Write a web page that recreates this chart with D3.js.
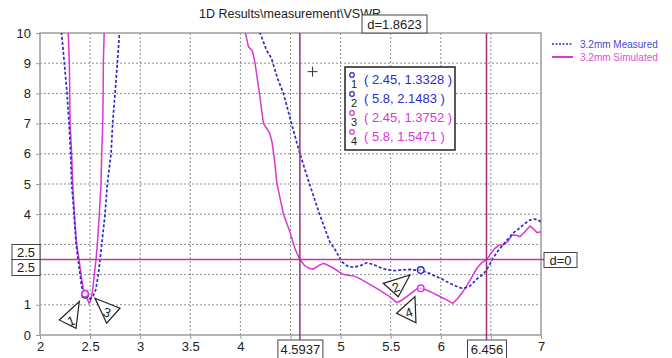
<!DOCTYPE html>
<html>
<head>
<meta charset="utf-8">
<script src="https://cdn.jsdelivr.net/npm/d3@7"></script>
<style>
  html, body { margin: 0; padding: 0; background: #fff; }
  svg { display: block; font-family: "Liberation Sans", Arial, sans-serif; }
</style>
</head>
<body>
<svg id="chart" width="672" height="358"></svg>
<script>
// Frequency (GHz) and VSWR for the 3.2 mm antenna, measured vs simulated.
const measuredFreq = [2.21, 2.243, 2.27, 2.29, 2.306, 2.316, 2.34, 2.36, 2.38, 2.40, 2.416, 2.435, 2.45, 2.47, 2.49, 2.51, 2.532, 2.556, 2.582, 2.60, 2.616, 2.649, 2.672, 2.709, 2.725, 2.749, 2.772, 2.795, 2.82,
  4.18, 4.196, 4.26, 4.31, 4.37, 4.43, 4.51, 4.594, 4.69, 4.79, 4.89, 4.95, 5.01, 5.07, 5.13, 5.2, 5.26, 5.33, 5.39, 5.45, 5.54, 5.62, 5.69, 5.75, 5.8, 5.88, 5.96, 6.03, 6.09, 6.15, 6.21, 6.25, 6.29, 6.33, 6.37, 6.42, 6.46, 6.49, 6.52, 6.57, 6.62, 6.67, 6.72, 6.77, 6.82, 6.86, 6.89, 6.93, 6.96, 7.0];
const measuredVswr = [10.2, 9, 8, 7, 6, 5, 4, 3, 2.5, 2, 1.6, 1.4, 1.3328, 1.25, 1.2, 1.22, 1.3, 1.5, 2, 2.5, 3, 4, 5, 6, 7, 8, 9, 10.1, 10.8,
  10.5, 10, 9.44, 9.16, 8.5, 8.0, 7.0, 6.0, 5.0, 4.0, 3.1, 2.8, 2.43, 2.28, 2.24, 2.3, 2.39, 2.33, 2.24, 2.17, 2.13, 2.16, 2.17, 2.15, 2.1483, 2.05, 1.93, 1.82, 1.71, 1.62, 1.55, 1.57, 1.62, 1.75, 1.88, 2.0, 2.17, 2.35, 2.54, 2.78, 2.98, 3.18, 3.37, 3.5, 3.64, 3.74, 3.81, 3.84, 3.83, 3.75];

const simulatedFreq = [2.28, 2.293, 2.297, 2.30, 2.316, 2.326, 2.343, 2.366, 2.39, 2.41, 2.43, 2.45, 2.47, 2.49, 2.50, 2.51, 2.526, 2.542, 2.559, 2.572, 2.592, 2.609, 2.616, 2.626, 2.63, 2.632, 2.642, 2.66,
  4.03, 4.05, 4.08, 4.12, 4.146, 4.19, 4.23, 4.26, 4.29, 4.315, 4.34, 4.365, 4.43, 4.495, 4.545, 4.594, 4.64, 4.69, 4.73, 4.78, 4.83, 4.88, 4.93, 4.98, 5.03, 5.09, 5.14, 5.2, 5.27, 5.33, 5.4, 5.49, 5.56, 5.61, 5.66, 5.72, 5.77, 5.8, 5.85, 5.93, 6.03, 6.08, 6.12, 6.17, 6.22, 6.29, 6.36, 6.41, 6.46, 6.5, 6.54, 6.58, 6.62, 6.67, 6.71, 6.75, 6.79, 6.84, 6.89, 6.93, 6.96, 7.0];
const simulatedVswr = [10.2, 9, 8, 7, 6, 5, 4, 3, 2.5, 2, 1.55, 1.3752, 1.2, 1.05, 1.1, 1.2, 1.5, 2, 2.5, 3, 4, 5, 6, 7, 8, 9, 10.2, 11,
  11, 10, 9.55, 9.4, 9.0, 8.0, 7.0, 6.85, 6.7, 6.4, 5.8, 5.0, 4.0, 3.4, 2.85, 2.5, 2.3, 2.2, 2.19, 2.3, 2.37, 2.3, 2.21, 2.1, 2.0, 1.97, 1.95, 1.85, 1.72, 1.6, 1.46, 1.27, 1.07, 1.15, 1.27, 1.42, 1.55, 1.5471, 1.5, 1.38, 1.21, 1.12, 1.05, 1.22, 1.43, 1.8, 2.21, 2.4, 2.5, 2.7, 2.87, 2.97, 2.98, 3.1, 3.31, 3.3, 3.26, 3.42, 3.61, 3.5, 3.39, 3.42];

// Tick labels that stay visible (4.5, 6.5, 2 and 3 sit under the readout boxes)
const xTicks = [2, 2.5, 3, 3.5, 4, 4.5, 5, 5.5, 6, 6.5, 7];
const xTickLabels = ["2", "2.5", "3", "3.5", "4", "", "5", "5.5", "6", "", "7"];
const yTicks = [0, 1, 2, 3, 4, 5, 6, 7, 8, 9, 10];
const yTickLabels = ["0", "1", "", "", "4", "5", "6", "7", "8", "9", "10"];

// Numbered markers: frequency, VSWR, series
const markerIds = ["1", "2", "3", "4"];
const markerFreq = [2.45, 5.8, 2.45, 5.8];
const markerVswr = [1.3328, 2.1483, 1.3752, 1.5471];
const markerSeries = ["measured", "measured", "simulated", "simulated"];

// Reference lines
const refLevel = 2.5;
const refFreqA = 4.5937;
const refFreqB = 6.456;

const seriesNames = ["3.2mm Measured", "3.2mm Simulated"];
const titleText = "1D Results\\measurement\\VSWR";

const blue = "#2c2cc8";
const magenta = "#d838d4";
const hRefColor = "#c8389a";
const vRefColor = "#9c3272";

const svg = d3.select("#chart");
const x = d3.scaleLinear().domain([2, 7]).range([40, 541]);
const y = d3.scaleLinear().domain([0, 10]).range([335, 33]);
const [x0, x1] = x.range();
const [y0, y1] = y.range();

// Grid
const grid = svg.append("g").attr("stroke", "#8c8c8c").attr("stroke-width", 1).attr("stroke-dasharray", "2,2");
grid.selectAll("line.v").data(xTicks.slice(1, -1)).join("line")
  .attr("x1", d => x(d)).attr("x2", d => x(d)).attr("y1", y1).attr("y2", y0);
grid.selectAll("line.h").data(yTicks.slice(1, -1)).join("line")
  .attr("x1", x0).attr("x2", x1).attr("y1", d => y(d)).attr("y2", d => y(d));

// Axes
const xAxis = svg.append("g").attr("transform", `translate(0,${y0})`)
  .call(d3.axisBottom(x).tickValues(xTicks).tickFormat((d, i) => xTickLabels[i]).tickSize(4).tickPadding(3));
const yAxis = svg.append("g").attr("transform", `translate(${x0},0)`)
  .call(d3.axisLeft(y).tickValues(yTicks).tickFormat((d, i) => yTickLabels[i]).tickSize(4).tickPadding(5));
[xAxis, yAxis].forEach(a => {
  a.select(".domain").remove();
  a.selectAll(".tick line").attr("stroke", "#999");
  a.selectAll(".tick text").attr("font-size", 13).attr("fill", "#222").attr("font-family", "Liberation Sans, Arial, sans-serif");
});

// Frame
svg.append("rect").attr("x", x0).attr("y", y1).attr("width", x1 - x0).attr("height", y0 - y1)
  .attr("fill", "none").attr("stroke", "#a2a2a2").attr("stroke-width", 1.6);

// Curves
svg.append("clipPath").attr("id", "plotClip").append("rect")
  .attr("x", x0).attr("y", y1).attr("width", x1 - x0).attr("height", y0 - y1);

const line = d3.line().x(d => x(d[0])).y(d => y(d[1]));
const measured = measuredFreq.map((f, i) => [f, measuredVswr[i]]);
const simulated = simulatedFreq.map((f, i) => [f, simulatedVswr[i]]);

const curves = svg.append("g").attr("clip-path", "url(#plotClip)");
curves.append("path").datum(simulated).attr("d", line)
  .attr("fill", "none").attr("stroke", magenta).attr("stroke-width", 1.5);
curves.append("path").datum(measured).attr("d", line)
  .attr("fill", "none").attr("stroke", blue).attr("stroke-width", 1.7).attr("stroke-dasharray", "3,2");

// Reference lines
svg.append("line").attr("x1", x0).attr("x2", 544).attr("y1", y(refLevel)).attr("y2", y(refLevel))
  .attr("stroke", hRefColor).attr("stroke-width", 1.5);
[refFreqA, refFreqB].forEach(f => {
  svg.append("line").attr("x1", x(f)).attr("x2", x(f)).attr("y1", y1).attr("y2", 340)
    .attr("stroke", vRefColor).attr("stroke-width", 1.5);
});

// Labeled boxes
function box(cx, cy, w, h, text) {
  const g = svg.append("g");
  g.append("rect").attr("x", cx).attr("y", cy).attr("width", w).attr("height", h)
    .attr("fill", "#fff").attr("stroke", "#444").attr("stroke-width", 1);
  g.append("text").attr("x", cx + w / 2).attr("y", cy + h / 2).attr("dy", "0.36em")
    .attr("text-anchor", "middle").attr("font-size", 13).attr("fill", "#222").text(text);
}
box(x(refFreqA) - 22, 340, 45, 19, String(refFreqA));
box(x(refFreqB) - 19, 340, 39, 19, String(refFreqB));
box(12, y(refLevel) - 15, 28, 15, String(refLevel));
box(12, y(refLevel), 28, 16, String(refLevel));
box(544, y(refLevel) - 7, 33, 15, "d=0");

// Title and delta box
svg.append("text").attr("x", 290).attr("y", 18).attr("text-anchor", "middle")
  .attr("font-size", 12.5).attr("fill", "#222").text(titleText);
box(362, 15, 65, 18, "d=" + d3.format(".4f")(refFreqB - refFreqA));

// Cursor cross
const cursorFreq = 4.72, cursorVswr = 8.72;
svg.append("path")
  .attr("d", `M${x(cursorFreq) - 5},${y(cursorVswr)}h10M${x(cursorFreq)},${y(cursorVswr) - 5}v10`)
  .attr("stroke", "#333").attr("stroke-width", 1);

// Marker triangles (offsets from the marked point) and circles
const triOffsets = [
  [[-25.8, 25.2], [-5.8, 6.9], [-9.1, 33.5]],
  [[-37.5, 13.2], [-10.8, 4.9], [-22.5, 26.6]],
  [[9.9, 4.8], [34.9, 14.8], [21.6, 29.8]],
  [[-24.1, 25], [-5.8, 8.4], [-4.8, 34.4]]
];
const triLabel = [[-14, 26, -20], [-25, 17, -20], [22, 19, 20], [-12, 24, -20]];
const colorOf = s => s === "measured" ? blue : magenta;

markerIds.forEach((id, i) => {
  const px = x(markerFreq[i]), py = y(markerVswr[i]);
  svg.append("path")
    .attr("d", "M" + triOffsets[i].map(o => `${px + o[0]},${py + o[1]}`).join("L") + "Z")
    .attr("fill", "#fff").attr("stroke", "#222").attr("stroke-width", 1.2);
  const [lx, ly, rot] = triLabel[i];
  svg.append("text").attr("x", px + lx).attr("y", py + ly).attr("dy", "0.36em")
    .attr("text-anchor", "middle").attr("font-size", 13).attr("fill", "#222")
    .attr("transform", `rotate(${rot},${px + lx},${py + ly})`).text(id);
});
markerIds.forEach((id, i) => {
  svg.append("circle").attr("cx", x(markerFreq[i])).attr("cy", y(markerVswr[i])).attr("r", 3.3)
    .attr("fill", "#fff").attr("fill-opacity", 0.6).attr("stroke", colorOf(markerSeries[i])).attr("stroke-width", 1.4);
});

// Marker readout box
const readout = svg.append("g");
readout.append("rect").attr("x", 345).attr("y", 67).attr("width", 110).attr("height", 83)
  .attr("fill", "#fff").attr("stroke", "#222").attr("stroke-width", 1.5);
markerIds.forEach((id, i) => {
  const cy = 79 + i * 19;
  const c = colorOf(markerSeries[i]);
  readout.append("circle").attr("cx", 352).attr("cy", cy - 4).attr("r", 2.3)
    .attr("fill", "none").attr("stroke", c).attr("stroke-width", 1.2);
  readout.append("text").attr("x", 354).attr("y", cy + 9).attr("text-anchor", "middle")
    .attr("font-size", 11).attr("fill", "#222").text(id);
  readout.append("text").attr("x", 364).attr("y", cy + 5).attr("font-size", 13).attr("fill", c)
    .text(`( ${markerFreq[i]}, ${markerVswr[i]} )`);
});

// Series legend
const legend = svg.append("g");
seriesNames.forEach((name, i) => {
  const ly = 44 + i * 13;
  const c = i === 0 ? blue : magenta;
  legend.append("line").attr("x1", 552).attr("x2", 573).attr("y1", ly).attr("y2", ly)
    .attr("stroke", c).attr("stroke-width", i === 0 ? 1.3 : 2)
    .attr("stroke-dasharray", i === 0 ? "2,1.5" : null);
  legend.append("text").attr("x", 580).attr("y", ly).attr("dy", "0.35em")
    .attr("font-size", 10).attr("fill", i === 0 ? "#4a4ad0" : "#e050d4").text(name);
});
</script>
</body>
</html>
